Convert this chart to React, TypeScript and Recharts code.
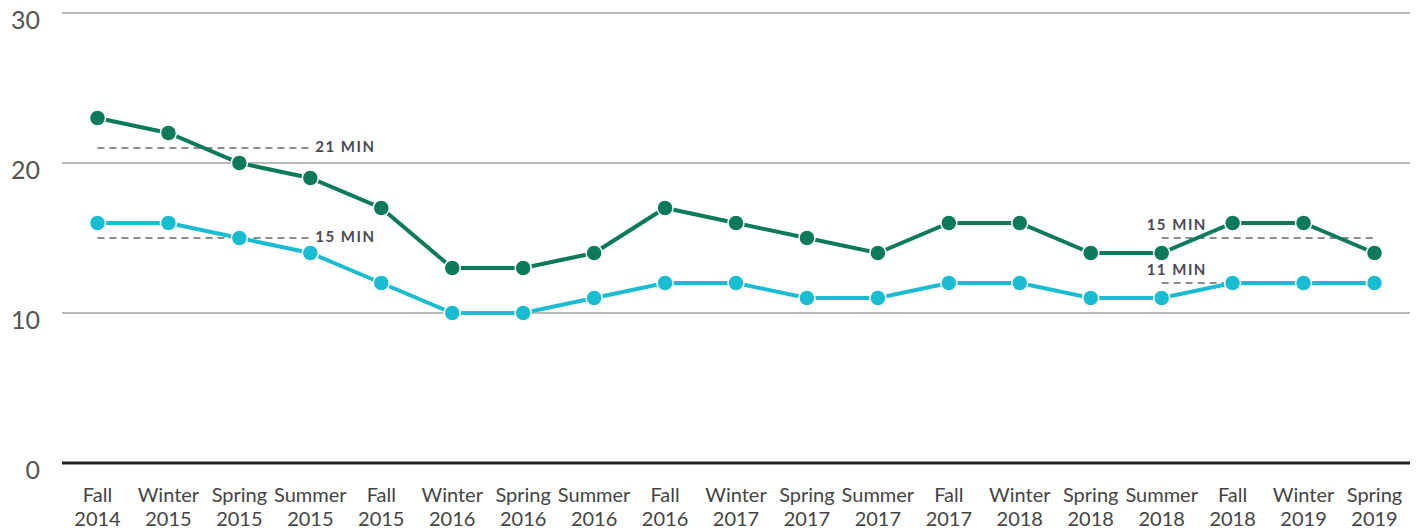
import React from 'react';
import { LineChart, Line, XAxis, YAxis, CartesianGrid, ReferenceLine } from 'recharts';

const categories = ['Fall 2014','Winter 2015','Spring 2015','Summer 2015','Fall 2015','Winter 2016','Spring 2016','Summer 2016','Fall 2016','Winter 2017','Spring 2017','Summer 2017','Fall 2017','Winter 2018','Spring 2018','Summer 2018','Fall 2018','Winter 2019','Spring 2019'];
const seriesA = [23,22,20,19,17,13,13,14,17,16,15,14,16,16,14,14,16,16,14];
const seriesB = [16,16,15,14,12,10,10,11,12,12,11,11,12,12,11,11,12,12,12];
const yTicks = [0,10,20,30];

const refLines = [
  { label: '21 MIN', y: 21, from: 'Fall 2014', to: 'Summer 2015', side: 'right' },
  { label: '15 MIN', y: 15, from: 'Fall 2014', to: 'Summer 2015', side: 'right' },
  { label: '15 MIN', y: 15, from: 'Summer 2018', to: 'Spring 2019', side: 'above' },
  { label: '11 MIN', y: 12, from: 'Summer 2018', to: 'Spring 2019', side: 'above' },
];

const data = categories.map((c, i) => ({ name: c, a: seriesA[i], b: seriesB[i] }));

const GREEN = '#0e7a5c';
const CYAN = '#1abcd2';
const FONT = 'Lato, "Open Sans", sans-serif';

const YTick = (props: any) => {
  const { y, payload } = props;
  return (
    <text x={40} y={y + 6} textAnchor="end" dominantBaseline="central" fontSize={25} fill="#555" fontFamily={FONT}>
      {payload.value}
    </text>
  );
};

const XTick = (props: any) => {
  const { x, y, payload } = props;
  const [a, b] = String(payload.value).split(' ');
  return (
    <g>
      <text x={x} y={y + 31} textAnchor="middle" fontSize={20} fill="#444" fontFamily={FONT}>{a}</text>
      <text x={x} y={y + 55} textAnchor="middle" fontSize={20} fill="#444" fontFamily={FONT}>{b}</text>
    </g>
  );
};

const makeLabel = (text: string, side: string) => (props: any) => {
  const vb = props.viewBox || {};
  const x = side === 'right' ? vb.x + (vb.width || 0) + 5 : vb.x - 15;
  const y = side === 'right' ? vb.y - 2 : vb.y - 14;
  return (
    <text x={x} y={y} dominantBaseline="central" textAnchor="start" fontSize={15} fontWeight={700} letterSpacing={1.5} fill="#4a4a55" fontFamily={FONT}>
      {text}
    </text>
  );
};

export default function App() {
  return (
    <div style={{ position: 'absolute', left: 0, top: 0 }}>
      <LineChart width={1421} height={531} data={data} margin={{ top: 13, right: 11, bottom: 0, left: 0 }}>
        <CartesianGrid vertical={false} stroke="#777" strokeWidth={1} />
        <XAxis dataKey="name" axisLine={false} tickLine={false} tick={<XTick />} interval={0} height={68} padding={{ left: 35.5, right: 35.5 }} />
        <YAxis domain={[0, 30]} ticks={yTicks} width={62} axisLine={false} tickLine={false} tick={<YTick />} />
        <ReferenceLine y={0} stroke="#222" strokeWidth={3} />
        {refLines.map((r, i) => (
          <ReferenceLine
            key={i}
            segment={[{ x: r.from, y: r.y }, { x: r.to, y: r.y }]}
            stroke="#8c8c8c"
            strokeWidth={2}
            strokeDasharray="7 5"
            label={makeLabel(r.label, r.side)}
          />
        ))}
        <Line type="linear" dataKey="a" stroke={GREEN} strokeWidth={4} isAnimationActive={false}
          dot={{ r: 8, fill: GREEN, stroke: '#fff', strokeWidth: 1.5 }} activeDot={false} />
        <Line type="linear" dataKey="b" stroke={CYAN} strokeWidth={4} isAnimationActive={false}
          dot={{ r: 8, fill: CYAN, stroke: '#fff', strokeWidth: 1.5 }} activeDot={false} />
      </LineChart>
    </div>
  );
}
